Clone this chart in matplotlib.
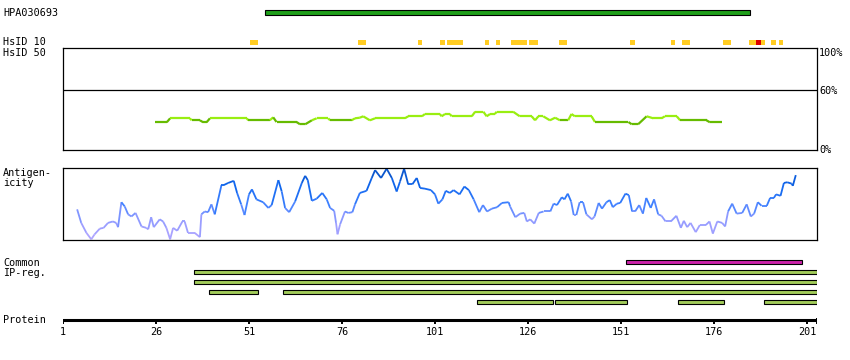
import matplotlib
matplotlib.use("Agg")
import matplotlib.pyplot as plt
import numpy as np
from matplotlib.patches import Rectangle
from matplotlib.collections import LineCollection
from matplotlib.colors import LinearSegmentedColormap

# ---------------- data ----------------
protein_end = 203.7
tick_residues = [1, 26, 51, 76, 101, 126, 151, 176, 201]

antibody_name = "HPA030693"
antibody_range = (55.3, 185.6)

hsid10_yellow = [(51.3, 53.4), (80.3, 82.5), (96.4, 97.5), (102.3, 103.7), (104.2, 108.5),
                 (114.4, 115.5), (117.4, 118.5), (121.4, 125.7), (126.3, 128.7), (134.3, 136.5),
                 (153.4, 154.8), (164.4, 165.5), (167.4, 169.5), (178.4, 180.6), (185.4, 189.7),
                 (191.3, 192.7), (193.5, 194.5)]
hsid10_red = [(187.3, 188.6)]

hsid50_res = [25.7, 28.9, 29.8, 35.1, 35.6, 37.8, 38.7, 39.6, 40.5, 50.4, 50.8, 56.6, 57.5, 58.4,
              63.8, 64.7, 66.1, 67.9, 69.2, 72.3, 72.8, 78.6, 79.5, 80.8, 81.7, 83.5, 84.9, 92.9,
              93.8, 97.5, 98.3, 102.3, 102.8, 103.7, 105.0, 105.5, 110.9, 111.8, 114.0, 114.9,
              115.8, 117.1, 117.6, 122.0, 123.8, 127.0, 127.9, 128.8, 130.1, 131.9, 133.3, 134.6,
              136.8, 137.7, 138.6, 143.1, 144.0, 153.0, 153.9, 155.6, 157.9, 159.7, 161.9, 162.8,
              166.0, 166.9, 174.0, 174.9, 178.1]
hsid50_pct = [27.7, 27.7, 31.7, 31.7, 29.7, 29.7, 27.7, 27.7, 31.7, 31.7, 29.7, 29.7, 32.7, 28.0,
              28.0, 25.7, 25.7, 29.7, 31.7, 31.7, 29.7, 29.7, 31.7, 32.3, 33.7, 29.7, 31.7, 31.7,
              33.7, 33.7, 36.0, 36.0, 33.7, 36.0, 36.0, 33.7, 33.7, 38.3, 38.3, 33.7,
              36.0, 36.0, 38.3, 38.3, 33.7, 33.7, 29.7, 33.7, 33.7, 29.7, 32.3, 29.7,
              29.7, 36.0, 33.7, 33.7, 28.0, 28.0, 25.7, 25.7, 33.7, 31.7, 31.7, 33.7,
              33.7, 29.7, 29.7, 27.7, 27.7]

antigen_res = [4.8, 5.9, 7.3, 8.6, 9.5, 10.9, 11.9, 13.1, 14.4, 15.3, 15.8, 16.7, 17.6, 18.5, 19.4,
               20.5, 22.1, 23.4, 23.9, 24.7, 25.4, 27.0, 27.9, 28.8, 29.8, 30.6, 31.7, 33.1, 33.7,
               34.6, 36.4, 37.8, 38.2, 39.1, 40.0, 40.9, 41.8, 43.6, 44.2, 45.4, 46.9, 47.8, 48.9,
               49.8, 51.0, 51.8, 53.0, 54.8, 56.2, 57.1, 58.9, 59.8, 60.7, 61.8, 63.4, 65.2, 66.1,
               66.8, 67.9, 69.2, 70.7, 71.9, 72.8, 73.9, 74.4, 74.8, 75.5, 76.8, 77.7, 78.8, 79.5,
               80.8, 82.6, 84.0, 84.9, 86.5, 88.0, 89.4, 90.7, 91.6, 92.7, 93.8, 94.9, 96.1, 97.0,
               98.3, 99.9, 101.0, 101.9, 103.0, 103.9, 105.0, 106.0, 107.6, 108.9, 110.1, 111.4,
               112.9, 113.9, 115.0, 116.3, 117.7, 119.0, 120.8, 121.2, 122.6, 123.9, 125.0, 125.7,
               126.6, 127.7, 128.9, 130.2, 132.0, 132.9, 133.8, 135.1, 135.8, 136.7, 137.6, 138.3,
               139.0, 139.9, 140.8, 141.7, 143.2, 143.9, 145.0, 145.9, 147.1, 148.0, 148.8, 149.9,
               150.8, 152.2, 153.1, 154.0, 154.8, 155.9, 156.9, 157.8, 159.0, 159.9, 161.0, 161.9,
               163.0, 164.4, 165.9, 167.1, 167.9, 168.8, 169.7, 171.1, 172.2, 173.8, 174.8, 175.7,
               176.9, 178.2, 179.0, 179.8, 180.9, 182.1, 183.6, 184.8, 185.9, 186.8, 187.8, 188.8,
               190.2, 191.1, 192.1, 192.7, 193.9, 194.8, 195.7, 196.9, 197.2, 198.0]
antigen_val = [0.42, 0.23, 0.09, 0.00, 0.07, 0.15, 0.16, 0.23, 0.25, 0.23, 0.17, 0.52, 0.46, 0.35, 0.32,
               0.37, 0.18, 0.16, 0.14, 0.31, 0.17, 0.28, 0.25, 0.16, 0.00, 0.16, 0.12, 0.25, 0.25,
               0.09, 0.09, 0.03, 0.35, 0.39, 0.38, 0.49, 0.35, 0.76, 0.76, 0.79, 0.82, 0.65, 0.49,
               0.34, 0.63, 0.70, 0.56, 0.52, 0.44, 0.48, 0.83, 0.67, 0.44, 0.38, 0.53, 0.79, 0.89,
               0.83, 0.54, 0.57, 0.65, 0.56, 0.44, 0.40, 0.23, 0.07, 0.21, 0.39, 0.37, 0.38, 0.49,
               0.65, 0.68, 0.86, 0.97, 0.86, 0.99, 0.86, 0.67, 0.81, 0.99, 0.77, 0.77, 0.86, 0.72,
               0.71, 0.69, 0.63, 0.50, 0.56, 0.68, 0.65, 0.69, 0.63, 0.74, 0.69, 0.56,
               0.38, 0.48, 0.39, 0.43, 0.45, 0.51, 0.52, 0.46, 0.31, 0.36, 0.37, 0.25,
               0.28, 0.22, 0.37, 0.39, 0.39, 0.50, 0.48, 0.59, 0.56, 0.64, 0.53, 0.34,
               0.34, 0.52, 0.52, 0.35, 0.28, 0.32, 0.51, 0.43, 0.52, 0.55, 0.45, 0.50,
               0.51, 0.64, 0.62, 0.39, 0.39, 0.48, 0.36, 0.58, 0.44, 0.56, 0.35, 0.33,
               0.25, 0.25, 0.33, 0.16, 0.26, 0.17, 0.23, 0.10, 0.20, 0.20, 0.25, 0.08,
               0.25, 0.23, 0.18, 0.39, 0.50, 0.36, 0.37, 0.49, 0.32, 0.36, 0.52, 0.47,
               0.47, 0.58, 0.58, 0.63, 0.61, 0.79, 0.80, 0.78, 0.75, 0.90]

common_regions = [(152.4, 199.6)]
ip_rows = [
    [(36.3, 203.7)],
    [(36.3, 203.7)],
    [(40.3, 53.3), (60.2, 203.7)],
    [(112.4, 132.6), (133.3, 152.5), (166.4, 178.6), (189.5, 203.7)],
]

# ---------------- layout ----------------
W, H = 850, 360
FONT = dict(family="DejaVu Sans Mono", fontsize=7.3, color="black")

fig = plt.figure(figsize=(W / 100, H / 100), dpi=100)
fig.patch.set_facecolor("white")


def fy(py):
    return 1 - py / H


# overlay axes: x in residues, y in pixel rows
ax = fig.add_axes([63 / W, 0, 754 / W, 1])
ax.set_xlim(1, protein_end)
ax.set_ylim(H, 0)
ax.axis("off")


def bar(a, b, y0, y1, fc, ec="black", lw=0.8):
    ax.add_patch(Rectangle((a, y0), b - a, y1 - y0, facecolor=fc, edgecolor=ec, linewidth=lw))


# antibody bar
bar(antibody_range[0], antibody_range[1], 10.3, 15.0, "#1f9f1a")
fig.text(3 / W, fy(13), antibody_name, va="center", ha="left", **FONT)

# HsID 10
for a, b in hsid10_yellow:
    bar(a, b, 40, 45, "#ffcc22", ec="none", lw=0)
for a, b in hsid10_red:
    bar(a, b, 40, 45, "#dd0000", ec="none", lw=0)
fig.text(3 / W, fy(42), "HsID 10", va="center", ha="left", **FONT)
fig.text(3 / W, fy(52.5), "HsID 50", va="center", ha="left", **FONT)

# HsID 50 panel
ax1 = fig.add_axes([63 / W, fy(150), 754 / W, 102 / H])
ax1.set_xlim(1, protein_end)
ax1.set_ylim(0, 102)
ax1.set_xticks([]); ax1.set_yticks([])
for s in ax1.spines.values():
    s.set_linewidth(0.9)
ax1.axhline(60, color="black", lw=0.9)
pts = np.column_stack([hsid50_res, hsid50_pct])
segs = np.stack([pts[:-1], pts[1:]], axis=1)
mid = (np.array(hsid50_pct[:-1]) + np.array(hsid50_pct[1:])) / 2
cols = ["#99ee11" if m >= 30.5 else "#66bb00" for m in mid]
ax1.add_collection(LineCollection(segs, colors=cols, linewidths=1.6, capstyle="butt"))
fig.text(819 / W, fy(52.5), "100%", va="center", ha="left", **FONT)
fig.text(819 / W, fy(90.5), "60%", va="center", ha="left", **FONT)
fig.text(819 / W, fy(150), "0%", va="center", ha="left", **FONT)

# Antigenicity panel
ax2 = fig.add_axes([63 / W, fy(240), 754 / W, 72 / H])
ax2.set_xlim(1, protein_end)
ax2.set_ylim(-0.01, 1.0)
ax2.set_xticks([]); ax2.set_yticks([])
for s in ax2.spines.values():
    s.set_linewidth(0.9)
cmap = LinearSegmentedColormap.from_list(
    "ag", [(0.0, "#b3a6ff"), (0.3, "#8c99ff"), (0.5, "#3d80ff"), (0.75, "#0f66ee"), (1.0, "#0a4fbf")])
pts = np.column_stack([antigen_res, antigen_val])
segs = np.stack([pts[:-1], pts[1:]], axis=1)
mid = (np.array(antigen_val[:-1]) + np.array(antigen_val[1:])) / 2
ax2.add_collection(LineCollection(segs, colors=cmap(mid), linewidths=1.3))
fig.text(3 / W, fy(172.5), "Antigen-", va="center", ha="left", **FONT)
fig.text(3 / W, fy(183.3), "icity", va="center", ha="left", **FONT)

# Common / IP regions
for a, b in common_regions:
    bar(a, b, 260, 264.3, "#cc22aa")
for i, row in enumerate(ip_rows):
    y0 = 270 + 10 * i
    for a, b in row:
        bar(a, b, y0, y0 + 4.3, "#a2cc5a")
fig.text(3 / W, fy(262.5), "Common", va="center", ha="left", **FONT)
fig.text(3 / W, fy(273.3), "IP-reg.", va="center", ha="left", **FONT)

# Protein axis
ax.plot([1, protein_end], [320, 320], color="black", lw=2.2, solid_capstyle="butt")
for t in tick_residues:
    ax.plot([t, t], [319, 324], color="black", lw=1.4, solid_capstyle="butt")
    ax.text(t, 332, str(t), ha="center", va="center", **FONT)
ax.plot([protein_end, protein_end], [318, 324], color="black", lw=1.4, solid_capstyle="butt")
fig.text(3 / W, fy(320), "Protein", va="center", ha="left", **FONT)

fig.savefig("out.png", dpi=100, facecolor="white")
